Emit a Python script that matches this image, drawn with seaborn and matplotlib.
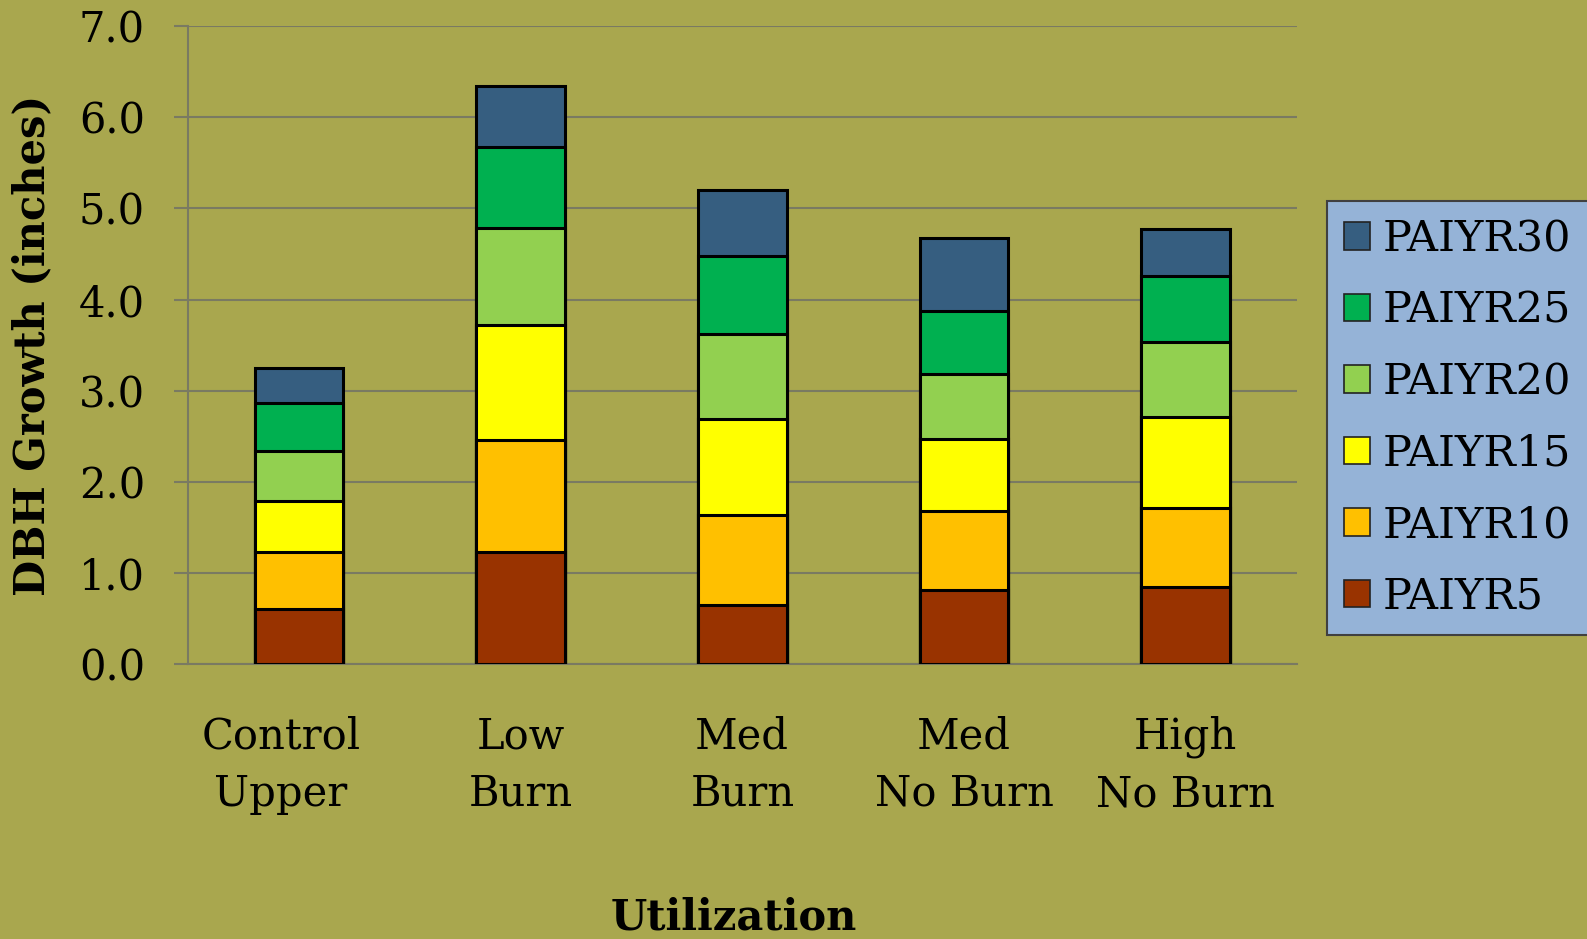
import numpy as np
import pandas as pd
import matplotlib
matplotlib.use("Agg")
import matplotlib.pyplot as plt
import matplotlib.transforms as mtransforms
import seaborn as sns
from matplotlib.patches import Patch

# Treatment groups and periodic annual increment by period (inches)
groups = ["Control\nUpper", "Low\nBurn", "Med\nBurn", "Med\nNo Burn", "High\nNo Burn"]
series = ["PAIYR5", "PAIYR10", "PAIYR15", "PAIYR20", "PAIYR25", "PAIYR30"]
paiyr5 = [0.60, 1.23, 0.65, 0.81, 0.84]
paiyr10 = [0.63, 1.23, 0.99, 0.87, 0.87]
paiyr15 = [0.56, 1.26, 1.05, 0.79, 1.00]
paiyr20 = [0.55, 1.07, 0.93, 0.71, 0.82]
paiyr25 = [0.52, 0.89, 0.86, 0.69, 0.73]
paiyr30 = [0.39, 0.66, 0.72, 0.81, 0.52]
yticks = [0.0, 1.0, 2.0, 3.0, 4.0, 5.0, 6.0, 7.0]

colors = ["#993300", "#FFC000", "#FFFF00", "#92D050", "#00B050", "#365E80"]
bg = "#A9A74E"
gridc = "#7A7A62"

sns.set_theme(style="white")
plt.rcParams["font.family"] = ["DejaVu Serif"]
plt.rcParams["text.color"] = "black"

values = [paiyr5, paiyr10, paiyr15, paiyr20, paiyr25, paiyr30]
df = pd.DataFrame({
    "group": np.repeat(groups, len(series)),
    "series": series * len(groups),
    "value": np.array(values).T.ravel(),
})
df["series"] = pd.Categorical(df["series"], categories=series, ordered=True)
df = df.sort_values(["group", "series"])
df["top"] = df.groupby("group", sort=False)["value"].cumsum()

fig = plt.figure(figsize=(15.87, 9.39), dpi=100)
fig.patch.set_facecolor(bg)
ax = fig.add_axes([0.1185, 0.2929, 0.6985, 0.6791])
ax.set_facecolor(bg)

# Stacked bars: draw cumulative heights from the top segment down
for name, col in reversed(list(zip(series, colors))):
    sub = df[df["series"] == name]
    sns.barplot(data=sub, x="group", y="top", order=groups, color=col,
                saturation=1, width=0.40, edgecolor="black", linewidth=2.2,
                ax=ax, zorder=3)

ax.set_xlim(-0.5, len(groups) - 0.5)
ax.set_ylim(0, 7)
ax.set_xlabel("")
ax.set_ylabel("")

ax.set_yticks(yticks)
ax.set_yticklabels([f"{v:.1f}" for v in yticks])
ax.yaxis.grid(True, color=gridc, linewidth=1.5, zorder=0)
ax.set_axisbelow(True)

ax.set_xticks(range(len(groups)))
ax.set_xticklabels(groups, linespacing=1.47)
ax.set_xticks(np.arange(-0.5, len(groups)), minor=True)
ax.tick_params(axis="x", which="major", length=0, pad=37, labelsize=30,
               labelcolor="black")
ax.tick_params(axis="x", which="minor", length=9, width=1.5, color=gridc)
ax.tick_params(axis="y", length=10, width=1.5, color=gridc, pad=21, labelsize=30,
               left=True, labelcolor="black")

# the first category label sits a little left of its bar
first = ax.get_xticklabels()[0]
first.set_transform(first.get_transform() +
                    mtransforms.ScaledTranslation(-0.18, 0, fig.dpi_scale_trans))

for s in ["top", "right"]:
    ax.spines[s].set_visible(False)
for s in ["left", "bottom"]:
    ax.spines[s].set_color(gridc)
    ax.spines[s].set_linewidth(1.5)

fig.text(32 / 1587, 0.2929 + 0.6791 / 2, "DBH Growth (inches)", rotation=90,
         ha="center", va="center", fontsize=30, fontweight="bold", color="black")
fig.text(734 / 1587, 1 - 929 / 939, "Utilization", ha="center", va="baseline",
         fontsize=30, fontweight="bold", color="black")

handles = [Patch(facecolor=c, edgecolor="#222222", linewidth=1.2) for c in colors]
leg = fig.legend(handles[::-1], series[::-1], loc="upper left",
                 bbox_to_anchor=(1327 / 1587, 1 - 201 / 939), borderaxespad=0,
                 fontsize=31, frameon=True, fancybox=False, framealpha=1,
                 handlelength=0.6, handleheight=0.6, handletextpad=0.3,
                 labelspacing=0.685, borderpad=0.4)
leg.get_frame().set_facecolor("#95B3D7")
leg.get_frame().set_edgecolor("#404040")
leg.get_frame().set_linewidth(1.5)
for t in leg.get_texts():
    t.set_color("black")

fig.savefig("out.png", dpi=100, facecolor=bg)
